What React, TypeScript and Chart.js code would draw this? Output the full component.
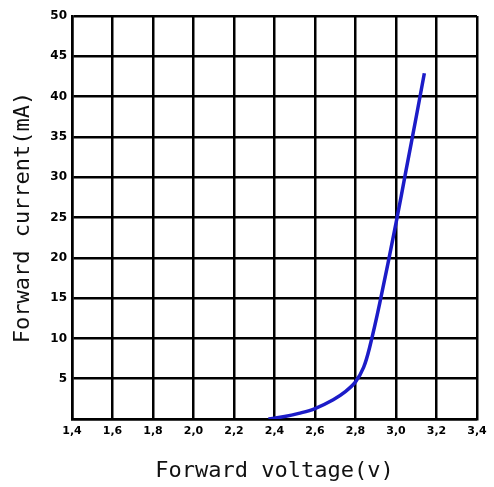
import React, { useEffect, useRef } from 'react';
import { Chart, registerables } from 'chart.js';

Chart.register(...registerables);

const voltage = [2.37, 2.45, 2.52, 2.6, 2.69, 2.75, 2.8, 2.84, 2.87, 2.92, 3.0, 3.05, 3.1, 3.14];
const current = [0, 0.3, 0.7, 1.3, 2.4, 3.4, 4.6, 6.4, 8.9, 14.4, 24.3, 30.9, 37.5, 42.9];
const xTicks = [1.4, 1.6, 1.8, 2.0, 2.2, 2.4, 2.6, 2.8, 3.0, 3.2, 3.4];
const yTicks = [0, 5, 10, 15, 20, 25, 30, 35, 40, 45, 50];
const xTitle = 'Forward voltage(v)';
const yTitle = 'Forward current(mA)';

export default function App() {
  const ref = useRef<HTMLCanvasElement | null>(null);
  useEffect(() => {
    document.body.style.margin = '0';
    const canvas = ref.current;
    if (!canvas) return;
    const titleFont = { family: '"DejaVu Sans Mono", monospace', size: 22, weight: 'normal' as const };
    const chart = new Chart(canvas, {
      type: 'line',
      data: {
        datasets: [
          {
            data: voltage.map((v, i) => ({ x: v, y: current[i] })),
            borderColor: '#1c1cc8',
            borderWidth: 3.5,
            pointRadius: 0,
            fill: false,
            tension: 0.35,
          },
        ],
      },
      options: {
        animation: false,
        responsive: false,
        maintainAspectRatio: false,
        layout: { padding: { top: 16, right: 17, left: 0, bottom: 0 } },
        plugins: { legend: { display: false }, tooltip: { enabled: false } },
        scales: {
          x: {
            type: 'linear',
            min: 1.4,
            max: 3.4,
            afterBuildTicks: (s: any) => {
              s.ticks = xTicks.map((v) => ({ value: v }));
            },
            afterFit: (s: any) => {
              s.height = 68;
            },
            grid: { color: '#000', lineWidth: 2.5, drawTicks: false },
            border: { color: '#000', width: 2.5 },
            ticks: {
              color: '#000',
              font: { family: '"DejaVu Sans", sans-serif', size: 11, weight: 'bold' as const },
              padding: 6,
              maxRotation: 0,
              autoSkip: false,
              callback: (v: any) => Number(v).toFixed(1).replace('.', ','),
            },
            title: {
              display: true,
              text: xTitle,
              color: '#111',
              font: titleFont,
              padding: { top: 0, bottom: 3 },
            },
          },
          y: {
            type: 'linear',
            min: 0,
            max: 50,
            afterBuildTicks: (s: any) => {
              s.ticks = yTicks.map((v) => ({ value: v }));
            },
            afterFit: (s: any) => {
              s.width = 72;
            },
            grid: { color: '#000', lineWidth: 2.5, drawTicks: false },
            border: { color: '#000', width: 2.5 },
            ticks: {
              color: '#000',
              font: { family: '"DejaVu Sans", sans-serif', size: 12, weight: 'bold' as const },
              padding: 5,
              autoSkip: false,
              callback: (v: any) => (Number(v) === 0 ? '' : String(v)),
            },
            title: {
              display: true,
              text: yTitle,
              color: '#111',
              font: titleFont,
              padding: { top: 10, bottom: 0 },
            },
          },
        },
      },
    });
    return () => chart.destroy();
  }, []);
  return (
    <div style={{ width: 494, height: 487, background: '#fff' }}>
      <canvas ref={ref} width={494} height={487} style={{ display: 'block' }} />
    </div>
  );
}
